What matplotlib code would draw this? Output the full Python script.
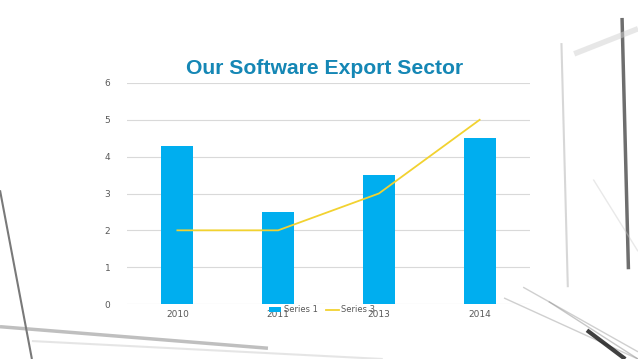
import matplotlib
matplotlib.use("Agg")
import matplotlib.pyplot as plt
from matplotlib.lines import Line2D
from matplotlib.patches import Patch
import numpy as np

# chart data
years = ["2010", "2011", "2013", "2014"]
series1 = [4.3, 2.5, 3.5, 4.5]
series3 = [2.0, 2.0, 3.0, 5.0]
y_ticks = [0, 1, 2, 3, 4, 5, 6]

BAR_COLOR = "#00aeef"
LINE_COLOR = "#f2d230"
TITLE_COLOR = "#1587b5"
TICK_COLOR = "#595959"

fig = plt.figure(figsize=(6.38, 3.59), dpi=100)
fig.patch.set_facecolor("white")

# faint slide background: grey architectural strokes
bg = fig.add_axes([0, 0, 1, 1], zorder=-5)
bg.set_xlim(0, 1)
bg.set_ylim(0, 1)
bg.axis("off")
strokes = [
    ([0.0, 0.05], [0.47, 0.0], "#404040", 1.5, 0.7),
    ([0.0, 0.42], [0.09, 0.03], "#808080", 2.5, 0.5),
    ([0.05, 0.6], [0.05, 0.0], "#c0c0c0", 1.5, 0.4),
    ([0.88, 0.89], [0.88, 0.2], "#b0b0b0", 1.5, 0.5),
    ([0.975, 0.985], [0.95, 0.25], "#303030", 2.5, 0.7),
    ([0.9, 1.0], [0.85, 0.92], "#d0d0d0", 4.0, 0.5),
    ([0.79, 1.0], [0.17, 0.0], "#a0a0a0", 1.0, 0.5),
    ([0.82, 1.0], [0.2, 0.02], "#a0a0a0", 1.0, 0.5),
    ([0.86, 1.0], [0.16, 0.0], "#909090", 1.0, 0.5),
    ([0.92, 0.98], [0.08, 0.0], "#101010", 3.0, 0.8),
    ([0.93, 1.0], [0.5, 0.3], "#c8c8c8", 1.0, 0.4),
]
for xs, ys, c, lw, a in strokes:
    bg.plot(xs, ys, color=c, lw=lw, alpha=a, solid_capstyle="butt")

ax = fig.add_axes([127 / 638, 55 / 359, 403 / 638, 221 / 359])
ax.patch.set_alpha(0)

x = np.arange(len(years))
ax.bar(x, series1, width=0.32, color=BAR_COLOR, zorder=2)
ax.plot(x, series3, color=LINE_COLOR, lw=1.3, zorder=3)

ax.set_xlim(-0.5, len(years) - 0.5)
ax.set_ylim(0, 6)
ax.set_yticks(y_ticks)
ax.set_xticks(x)
ax.set_xticklabels(years)
ax.tick_params(axis="both", length=0, labelsize=6.5, labelcolor=TICK_COLOR)
ax.tick_params(axis="y", pad=12)
ax.tick_params(axis="x", pad=4)
ax.grid(axis="y", color="#d9d9d9", lw=0.8, zorder=0)
for s in ax.spines.values():
    s.set_visible(False)

fig.text(325 / 638, 1 - 69 / 359, "Our Software Export Sector",
         family=["Liberation Sans Narrow", "Liberation Sans", "DejaVu Sans"],
         fontweight="bold", fontsize=15.2, color=TITLE_COLOR,
         ha="center", va="center")

handles = [Patch(facecolor=BAR_COLOR, label="Series 1"),
           Line2D([0], [0], color=LINE_COLOR, lw=1.3, label="Series 3")]
fig.legend(handles=handles, loc="center", bbox_to_anchor=(322 / 638, 1 - 310 / 359),
           ncol=2, frameon=False, fontsize=6, handlelength=1.5, handleheight=0.6,
           handletextpad=0.3, columnspacing=1.0, labelcolor=TICK_COLOR)

fig.savefig("out.png", dpi=100)
